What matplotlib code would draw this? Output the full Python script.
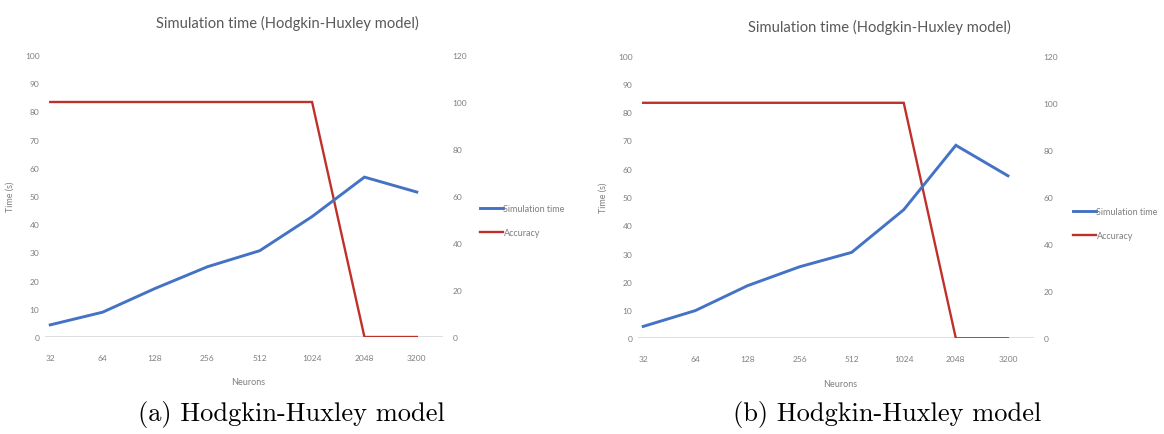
import matplotlib
matplotlib.use("Agg")
import matplotlib.pyplot as plt

neurons = ["32", "64", "128", "256", "512", "1024", "2048", "3200"]
time_a = [4.3, 8.8, 17.2, 24.9, 30.6, 42.7, 56.7, 51.4]
time_b = [4.2, 9.8, 18.6, 25.3, 30.4, 45.5, 68.3, 57.5]
accuracy_a = [100, 100, 100, 100, 100, 100, 0, 0]
accuracy_b = [100, 100, 100, 100, 100, 100, 0, 0]
time_ticks = list(range(0, 101, 10))
acc_ticks = list(range(0, 121, 20))
chart_title = "Simulation time (Hodgkin-Huxley model)"
captions = ["(a) Hodgkin-Huxley model", "(b) Hodgkin-Huxley model"]

W, H = 1164, 435
fig = plt.figure(figsize=(W / 100, H / 100), dpi=100)

FONT = ["Lato", "DejaVu Sans"]
GREY = "#7f7f7f"
BLUE = "#4472c4"
RED = "#c0302b"

panels = [
    dict(times=time_a, acc=accuracy_a, rect=(45, 338, 443, 56), title_y=23,
         leg=(480, 221.5), xlab_y=378, ylab_x=15),
    dict(times=time_b, acc=accuracy_b, rect=(638, 339.3, 1034, 56.7), title_y=27,
         leg=(1073, 224.5), xlab_y=380, ylab_x=608),
]

x = list(range(len(neurons)))
for p in panels:
    x0, y0, x1, y1 = p["rect"]
    ax = fig.add_axes([x0 / W, 1 - y0 / H, (x1 - x0) / W, (y0 - y1) / H])
    ax2 = ax.twinx()
    l1, = ax.plot(x, p["times"], color=BLUE, lw=2.1, label="Simulation time",
                  solid_joinstyle="miter", zorder=3)
    l2, = ax2.plot(x, p["acc"], color=RED, lw=1.7, label="Accuracy",
                   solid_joinstyle="miter", zorder=3)
    ax.set_xlim(-0.1, 7.5)
    ax.set_ylim(0, 100)
    ax2.set_ylim(0, 120)
    ax.set_yticks(time_ticks)
    ax2.set_yticks(acc_ticks)
    ax.set_xticks(x)
    ax.set_xticklabels(neurons)
    for a in (ax, ax2):
        for s in a.spines.values():
            s.set_visible(False)
        a.tick_params(length=0, labelsize=6, labelcolor=GREY)
        for lab in a.get_xticklabels() + a.get_yticklabels():
            lab.set_family(FONT)
    ax.tick_params(axis="y", pad=4)
    ax2.tick_params(axis="y", pad=7)
    ax.tick_params(axis="x", pad=12)
    ax2.axhline(0, color="#d9d9d9", lw=1.2, zorder=1)
    ax.set_zorder(ax2.get_zorder() + 1)
    ax.patch.set_visible(False)

    w = x1 - x0
    h = y0 - y1
    ax.set_xlabel("Neurons", fontsize=6.5, color=GREY, family=FONT)
    ax.xaxis.set_label_coords((((x0 + x1) / 2 + 4) - x0) / w, (y0 - p["xlab_y"]) / h)
    ax.set_ylabel("Time (s)", fontsize=6.5, color=GREY, family=FONT)
    ax.yaxis.set_label_coords((p["ylab_x"] - x0) / w, 0.5)
    ax.text(0.61, (y0 - p["title_y"]) / h,
            chart_title, transform=ax.transAxes, ha="center", va="center",
            fontsize=10.6, color="#595959", family=FONT)
    leg = ax.legend(handles=[l1, l2], loc="center left",
                    bbox_to_anchor=((p["leg"][0] - x0) / w, (y0 - p["leg"][1]) / h),
                    frameon=False, labelspacing=1.7, handlelength=2.5,
                    handletextpad=0.1, borderpad=0, borderaxespad=0,
                    prop={"family": FONT, "size": 6.5})
    for t in leg.get_texts():
        t.set_color(GREY)

fig.text(291 / W, 1 - 415 / H, captions[0], ha="center", va="center",
         fontsize=19, family="cmr10")
fig.text(887 / W, 1 - 415 / H, captions[1], ha="center", va="center",
         fontsize=19, family="cmr10")

fig.savefig("out.png", dpi=100)
